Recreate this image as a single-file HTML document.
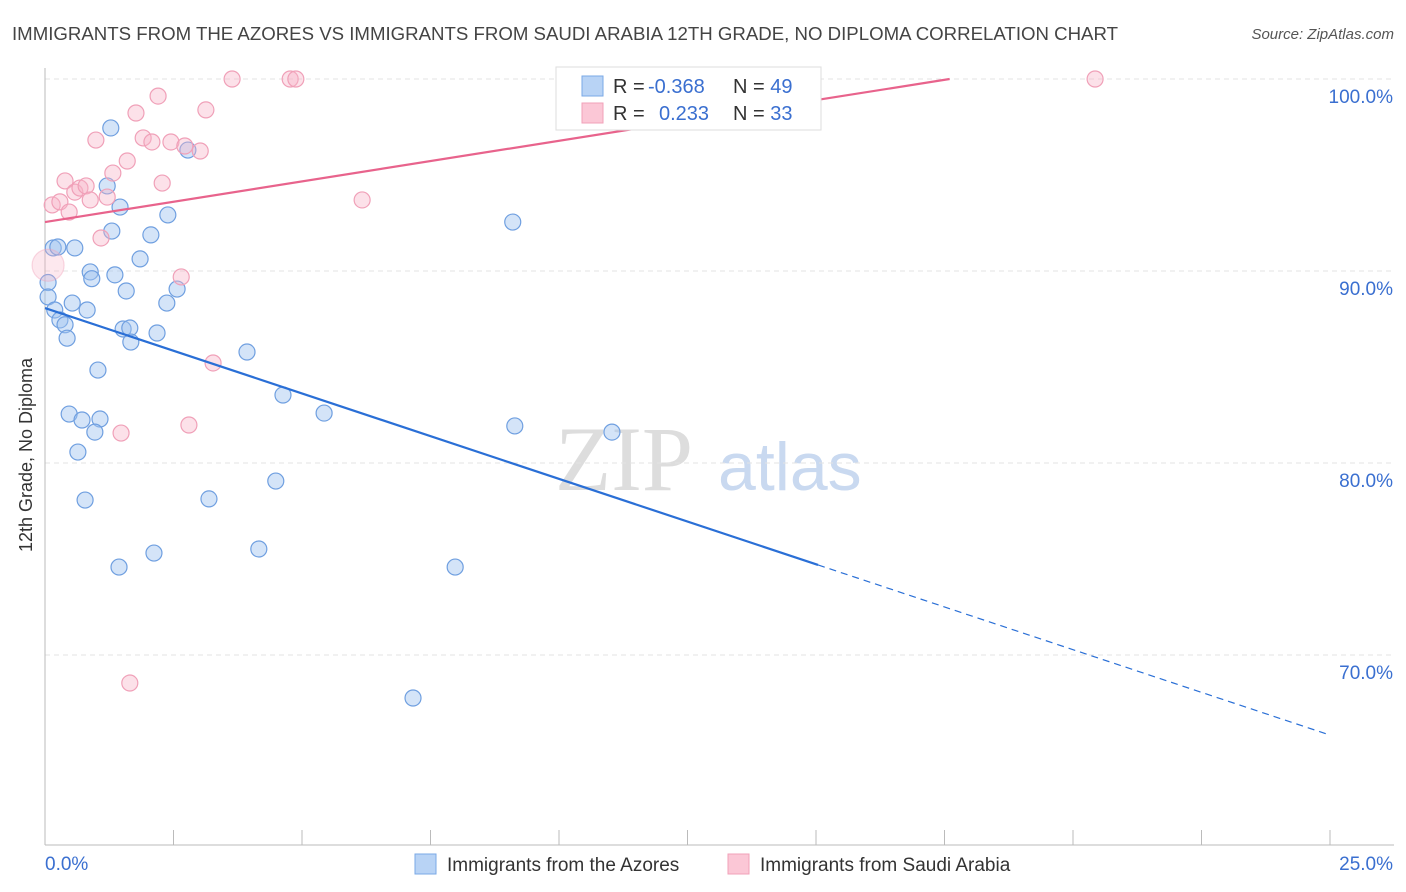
<!DOCTYPE html>
<html><head><meta charset="utf-8"><style>
body{margin:0;background:#fff;font-family:"Liberation Sans",sans-serif;}
svg{display:block}
</style></head><body>
<svg id="chart" width="1406" height="892">
<text x="12" y="40" font-size="18" fill="#444" textLength="1106" lengthAdjust="spacingAndGlyphs">IMMIGRANTS FROM THE AZORES VS IMMIGRANTS FROM SAUDI ARABIA 12TH GRADE, NO DIPLOMA CORRELATION CHART</text>
<text x="1394" y="39" font-size="15" fill="#555" text-anchor="end" font-style="italic">Source: ZipAtlas.com</text>
<text x="32" y="455" font-size="18" fill="#333" text-anchor="middle" transform="rotate(-90 32 455)">12th Grade, No Diploma</text>
<text x="555" y="490" font-size="92" fill="#ddd" font-family="Liberation Serif,serif">ZIP</text>
<text x="718" y="490" font-size="68" fill="#c9d9f0">atlas</text>
<g id="grid"></g><g id="axes"></g><g id="pts"></g><g id="lines"></g>
<g>
<rect x="556" y="67" width="265" height="63" fill="#fff" stroke="#ddd"/>
<rect x="582" y="76" width="21" height="20" fill="#b8d3f5" stroke="#7aa8e6"/>
<rect x="582" y="103" width="21" height="20" fill="#fbc7d6" stroke="#f2a0b8"/>
<text x="613" y="93" font-size="20" fill="#333">R = <tspan fill="#3a6fd0" x="648">-0.368</tspan></text>
<text x="733" y="93" font-size="20" fill="#333">N = <tspan fill="#3a6fd0">49</tspan></text>
<text x="613" y="120" font-size="20" fill="#333">R = <tspan fill="#3a6fd0" x="659">0.233</tspan></text>
<text x="733" y="120" font-size="20" fill="#333">N = <tspan fill="#3a6fd0">33</tspan></text>
</g>
<g>
<rect x="415" y="854" width="21" height="20" fill="#b8d3f5" stroke="#7aa8e6"/>
<text x="447" y="871" font-size="19" fill="#333">Immigrants from the Azores</text>
<rect x="728" y="854" width="21" height="20" fill="#fbc7d6" stroke="#f2a0b8"/>
<text x="760" y="871" font-size="19" fill="#333">Immigrants from Saudi Arabia</text>
</g>
</svg>
<script>
const yTicks=[100,90,80,70];
const yTickLabels=["100.0%","90.0%","80.0%","70.0%"];
const blueX=[0.16,0.25,0.58,0.06,0.06,0.19,0.29,0.39,0.43,0.53,0.82,0.88,0.91,1.36,1.03,1.21,1.28,1.46,1.30,1.58,1.85,2.06,2.39,2.37,2.57,2.78,1.52,1.65,1.67,2.18,3.93,4.63,5.43,0.47,0.72,1.07,0.97,0.64,0.78,3.19,4.49,1.44,2.12,4.16,7.16,7.98,9.1,9.14,11.03];
const blueY=[91.2,91.25,91.2,89.4,88.65,87.97,87.45,87.2,86.5,88.33,87.97,89.95,89.6,89.8,84.84,94.43,97.45,93.33,92.08,88.96,90.63,91.88,92.92,88.33,89.06,96.3,86.98,87.03,86.3,86.77,85.78,83.54,82.6,82.55,82.24,82.29,81.61,80.57,78.07,78.13,79.06,74.58,75.31,75.52,67.76,74.58,92.55,81.93,81.61];
const pinkX=[0.14,0.29,0.39,0.47,0.58,0.68,0.8,0.88,1.09,1.21,1.32,0.99,1.6,1.77,1.91,2.08,2.2,2.28,2.45,2.72,3.02,3.13,3.64,4.77,4.88,2.65,3.27,2.8,1.48,1.65,6.17,20.43,0.06];
const pinkY=[93.44,93.6,94.69,93.07,94.11,94.32,94.43,93.7,91.72,93.85,95.1,96.82,95.73,98.23,96.93,96.72,99.11,94.58,96.72,96.51,96.25,98.39,100,100,100,89.69,85.21,81.98,81.56,68.54,93.7,100,90.3];
const blueLine=[88.07,65.83], blueSolidEnd=15.04;
const pinkLine=[92.55,0.4233];
const X=v=>45+v/25*1285, Y=v=>79+(100-v)*19.2;
const NS="http://www.w3.org/2000/svg";
function mk(tag,attrs,parent){const e=document.createElementNS(NS,tag);for(const k in attrs)e.setAttribute(k,attrs[k]);document.getElementById(parent).appendChild(e);return e;}
yTicks.forEach((t,i)=>{
 const l=mk('line',{x1:45,x2:1394,y1:Y(t),y2:Y(t),stroke:'#e3e3e3','stroke-dasharray':'5,4'},'grid');
 
 
 const tx=mk('text',{x:1393,y:Y(t)+24,'font-size':19,fill:'#3a6fd0','text-anchor':'end'},'grid');
 tx.textContent=yTickLabels[i];
 
 
});
const ax=mk('line',{x1:45,x2:45,y1:68,y2:845,stroke:'#bbb'},'axes');


const bx=mk('line',{x1:45,x2:1394,y1:845,y2:845,stroke:'#bbb'},'axes');


for(let i=1;i<=10;i++){const t=mk('line',{x1:45+i*128.5,x2:45+i*128.5,y1:830,y2:845,stroke:'#bbb'},'axes');
 
 }
const xl=mk('text',{x:45,y:870,'font-size':19,fill:'#3a6fd0'},'axes');xl.textContent='0.0%';


const xr=mk('text',{x:1393,y:870,'font-size':19,fill:'#3a6fd0','text-anchor':'end'},'axes');xr.textContent='25.0%';


blueX.forEach((x,i)=>{const c=mk('circle',{cx:X(x),cy:Y(blueY[i]),r:8,fill:'rgba(160,196,240,0.45)',stroke:'#6f9fe0','stroke-width':1.2},'pts');
 
 });
pinkX.forEach((x,i)=>{const big=i==pinkX.length-1;const c=mk('circle',{cx:X(x),cy:Y(pinkY[i]),r:big?16:8,fill:big?'rgba(248,180,200,0.3)':'rgba(248,180,200,0.4)',stroke:big?'rgba(240,160,184,0.4)':'#f0a0b8','stroke-width':1.2},'pts');
 
 });
const by=x=>blueLine[0]+(blueLine[1]-blueLine[0])*x/25;
const b1=mk('line',{x1:X(0),y1:Y(by(0)),x2:X(blueSolidEnd),y2:Y(by(blueSolidEnd)),stroke:'#2a6fd6','stroke-width':2.2},'lines');


const b2=mk('line',{x1:X(blueSolidEnd),y1:Y(by(blueSolidEnd)),x2:X(25),y2:Y(by(25)),stroke:'#2a6fd6','stroke-width':1.2,'stroke-dasharray':'7,5'},'lines');


const pEnd=(100-pinkLine[0])/pinkLine[1];
const p1=mk('line',{x1:X(0),y1:Y(pinkLine[0]),x2:X(pEnd),y2:Y(100),stroke:'#e8638c','stroke-width':2.2},'lines');


</script>
</body></html>
